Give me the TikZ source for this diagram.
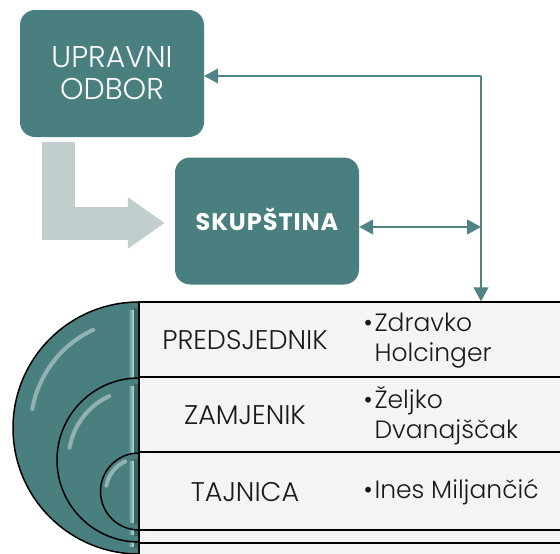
\documentclass[tikz,border=0pt]{standalone}
\usepackage{fontspec}
\setmainfont{Poppins Light}
\newfontfamily\boldfont{Poppins}[LetterSpace=4]
\usetikzlibrary{arrows.meta,calc}
\definecolor{tealbox}{RGB}{74,127,127}
\definecolor{tealline}{RGB}{80,132,132}
\definecolor{greyarrow}{RGB}{194,206,205}
\definecolor{rowfill}{RGB}{244,244,244}
\definecolor{gloss}{RGB}{200,240,240}
\begin{document}
\begin{tikzpicture}[x=1pt,y=-1pt,
  box/.style={fill=tealbox, rounded corners=15pt, minimum width=184pt, minimum height=127pt, inner sep=0pt, text=white, align=center},
  conn/.style={draw=tealline, line width=1.3pt},
  >={Triangle[length=14pt,width=15pt]},
  bigarrow/.style={draw=greyarrow, line width=33pt, line join=miter, -{Triangle[length=37pt,width=49pt]}},
  rowbox/.style={draw=black, line width=1.5pt, fill=rowfill, minimum width=441pt, inner sep=0pt},
  rolefont/.style={font=\fontsize{27}{30}\selectfont, text=black!90},
  namefont/.style={font=\fontsize{25}{30}\selectfont, text=black!90, align=left, anchor=west},
  semi/.style={fill=tealbox},
  semiline/.style={draw=black, line width=1.5pt},
  shine/.style={draw=white, opacity=.4, line width=4pt, line cap=round}
]
\useasboundingbox (0,0) rectangle (560,554);
\clip (0,0) rectangle (560,554);

% boxes
\node[box, font=\fontsize{30}{32}\selectfont] (upravni) at (112,73.5) {UPRAVNI\\ODBOR};
\node[box, font=\boldfont\bfseries\fontsize{24}{26}\selectfont] (skupstina) at (267,221) {\raisebox{4pt}{SKUP\v{S}TINA}};

% grey L arrow
\draw[bigarrow] ($(upravni.south west)+(39,5)$) |- ($(skupstina.west)+(-10,2)$);

% half discs
\foreach \cy/\r in {428/126, 460/82, 491.5/38.5}{
  \fill[semi] (139,\cy-\r) arc[start angle=90,end angle=270,radius=\r pt] -- cycle;
  \shade[left color=tealbox, right color=gloss, opacity=.9] (128,\cy-\r+8) rectangle (134,\cy+\r-8);
  \fill[tealbox!80!black] (134,\cy-\r+6) rectangle (138,\cy+\r-6);
  \draw[shine] ($(139,\cy)+(115:0.86*\r pt)$) arc[start angle=115,end angle=170,radius=0.86*\r pt];
  \draw[semiline] (139,\cy-\r) arc[start angle=90,end angle=270,radius=\r pt];
}

% table rows
\node[rowbox, minimum height=75pt] (r1) at (359.5,339.5) {};
\node[rowbox, minimum height=75pt] (r2) at (359.5,414.5) {};
\node[rowbox, minimum height=78pt] (r3) at (359.5,491) {};
\node[rowbox, minimum height=13pt] (r4) at (359.5,536.5) {};
\node[rowbox, minimum height=57pt] (r5) at (359.5,571.5) {};

\node[rolefont] (l1) at (245,340) {PREDSJEDNIK};
\node[rolefont] (l2) at (245,415) {ZAMJENIK};
\node[rolefont] (l3) at (245,492) {TAJNICA};
\node[namefont] (n1) at (360,341) {\makebox[11pt][l]{•}Zdravko\\\hspace*{11pt}Holcinger};
\node[namefont] (n2) at (360,416) {\makebox[11pt][l]{•}Željko\\\hspace*{11pt}Dvanajščak};
\node[namefont] (n3) at (360,492) {\makebox[11pt][l]{•}Ines Miljančić};

% connectors
\coordinate (corner) at (481,76);
\coordinate (skr) at ([yshift=-6pt]skupstina.east);
\draw[conn,->] (corner) -- (upravni.east |- corner);
\draw[conn,->] (corner) -- (corner |- r1.north);
\draw[conn,<->] (skr) -- (corner |- skr);
\end{tikzpicture}
\end{document}
